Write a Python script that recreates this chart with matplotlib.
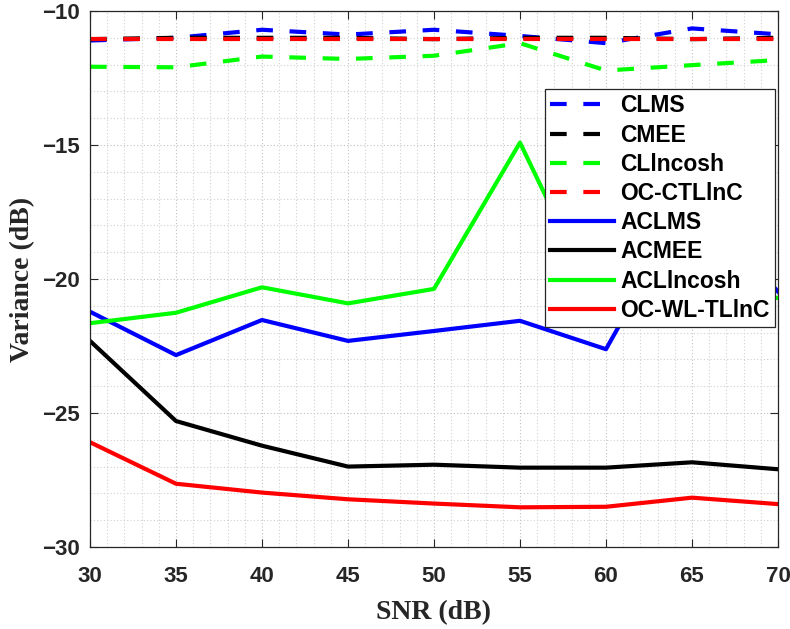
import matplotlib
matplotlib.use("Agg")
import matplotlib.pyplot as plt
from matplotlib.ticker import MultipleLocator

snr = [30, 35, 40, 45, 50, 55, 60, 65, 70]

clms = [-11.10, -11.00, -10.70, -10.88, -10.70, -10.93, -11.20, -10.65, -10.87]
cmee = [-11.05, -11.00, -11.00, -11.00, -11.05, -11.00, -11.00, -11.05, -11.00]
clncosh = [-12.08, -12.10, -11.70, -11.79, -11.67, -11.20, -12.22, -12.02, -11.83]
occtlnc = [-11.04, -11.04, -11.04, -11.04, -11.04, -11.04, -11.04, -11.04, -11.04]

aclms = [-21.22, -22.84, -21.53, -22.31, -21.94, -21.56, -22.62, -16.90, -20.47]
acmee = [-22.31, -25.30, -26.22, -27.00, -26.93, -27.04, -27.04, -26.84, -27.10]
aclncosh = [-21.65, -21.26, -20.31, -20.91, -20.37, -14.91, -21.60, -21.00, -20.70]
ocwltlnc = [-26.09, -27.64, -27.97, -28.22, -28.38, -28.52, -28.50, -28.16, -28.40]

labels = ["CLMS", "CMEE", "CLlncosh", "OC-CTLlnC",
          "ACLMS", "ACMEE", "ACLlncosh", "OC-WL-TLlnC"]

xticks = [30, 35, 40, 45, 50, 55, 60, 65, 70]
yticks = [-30, -25, -20, -15, -10]

fig = plt.figure(figsize=(7.9, 6.29), dpi=100)
ax = fig.add_axes([0.1139, 0.1304, 0.8709, 0.8521])

lw = 3
dash = [4, 4]
series = [clms, cmee, clncosh, occtlnc, aclms, acmee, aclncosh, ocwltlnc]
colors = ["#0000ff", "#000000", "#00ff00", "#ff0000"] * 2
for i, (ys, c, lab) in enumerate(zip(series, colors, labels)):
    if i < 4:
        ax.plot(snr, ys, color=c, lw=lw, dashes=dash, label=lab)
    else:
        ax.plot(snr, ys, color=c, lw=lw, label=lab)

ax.set_xlim(30, 70)
ax.set_ylim(-30, -10)
ax.set_xticks(xticks)
ax.set_yticks(yticks)
ax.xaxis.set_minor_locator(MultipleLocator(1))
ax.yaxis.set_minor_locator(MultipleLocator(1))
ax.grid(True, which="major", linestyle=(0, (1, 2)), color="#c0c0c0", lw=0.8)
ax.grid(True, which="minor", linestyle=(0, (1, 2)), color="#d0d0d0", lw=0.8)
ax.tick_params(which="major", direction="in", length=6, width=0.8,
               top=True, right=True, color="#262626", labelcolor="#262626")
ax.tick_params(axis="x", which="major", pad=14)
ax.tick_params(axis="y", which="major", pad=7)
ax.tick_params(which="minor", length=0, top=True, right=True)
for lab in ax.get_xticklabels() + ax.get_yticklabels():
    lab.set_fontfamily("Liberation Sans")
    lab.set_fontweight("bold")
    lab.set_fontsize(16)
for s in ax.spines.values():
    s.set_color("#262626")
    s.set_linewidth(0.9)

ax.set_xlabel("SNR (dB)", fontfamily="Liberation Serif", fontweight="bold",
              fontsize=20, color="#262626", labelpad=9)
ax.set_ylabel("Variance (dB)", fontfamily="Liberation Serif", fontweight="bold",
              fontsize=20, color="#262626", labelpad=5)

leg = ax.legend(loc="upper right", bbox_to_anchor=(0.996, 0.855),
                prop={"family": "Liberation Sans", "weight": "bold", "size": 16.5},
                handlelength=2.8, labelspacing=0.27, handletextpad=0.25,
                borderpad=0.25, borderaxespad=0.0,
                fancybox=False, framealpha=1, edgecolor="#262626")
leg.get_frame().set_linewidth(0.9)

fig.savefig("out.png", dpi=100)
